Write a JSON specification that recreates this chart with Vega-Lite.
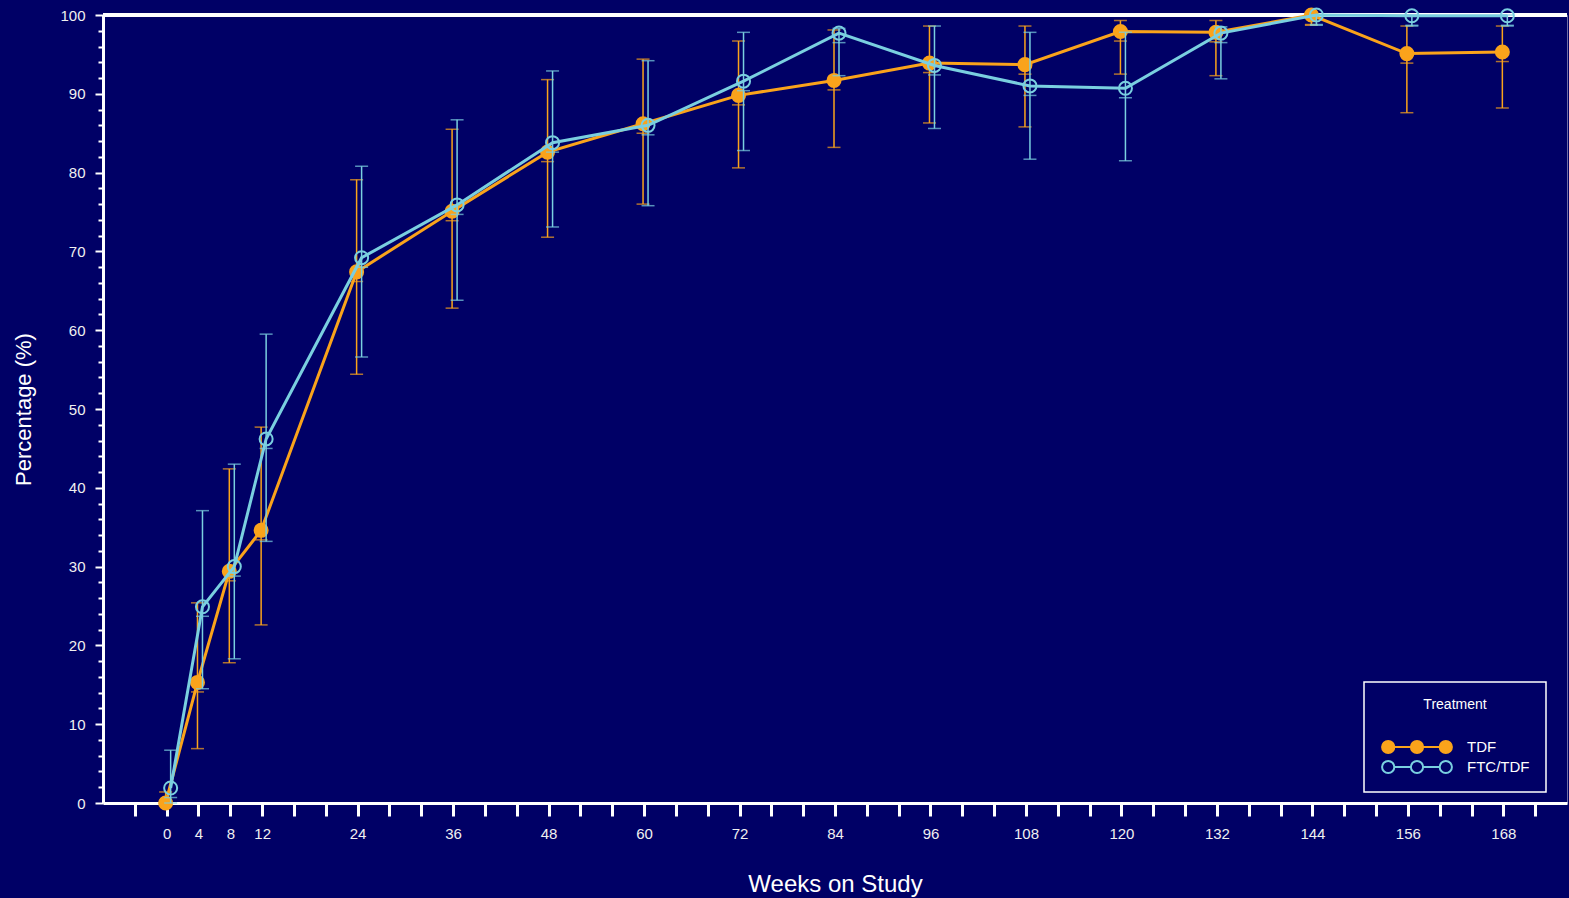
{
  "$schema": "https://vega.github.io/schema/vega-lite/v6.json",
  "width": 1464,
  "height": 788,
  "autosize": {"type": "none"},
  "padding": {"left": 103, "top": 15, "right": 2, "bottom": 95},
  "background": "#000066",
  "config": {
    "view": {"stroke": "#6e6ea6", "strokeWidth": 1},
    "font": "Liberation Sans",
    "legend": {
      "fillColor": "#000066",
      "strokeColor": "#ffffff",
      "strokeWidth": 1.5,
      "padding": 16,
      "titleAnchor": "middle",
      "titleFontSize": 14,
      "titleFontWeight": "normal",
      "titleColor": "#ffffff",
      "titlePadding": 26,
      "labelFontSize": 15,
      "labelColor": "#ffffff",
      "labelOffset": 13,
      "symbolSize": 5184,
      "symbolStrokeWidth": 2,
      "symbolOpacity": 1,
      "clipHeight": 18,
      "rowPadding": 2
    }
  },
  "data": {
    "values": [
      {"week": 0, "treatment": "TDF", "pct": 0, "lo": 0, "hi": 1.4},
      {"week": 4, "treatment": "TDF", "pct": 15.3, "lo": 6.9, "hi": 25.4},
      {"week": 8, "treatment": "TDF", "pct": 29.4, "lo": 17.8, "hi": 42.4},
      {"week": 12, "treatment": "TDF", "pct": 34.6, "lo": 22.6, "hi": 47.7},
      {"week": 24, "treatment": "TDF", "pct": 67.4, "lo": 54.4, "hi": 79.1},
      {"week": 36, "treatment": "TDF", "pct": 75.1, "lo": 62.8, "hi": 85.5},
      {"week": 48, "treatment": "TDF", "pct": 82.6, "lo": 71.8, "hi": 91.8},
      {"week": 60, "treatment": "TDF", "pct": 86.2, "lo": 76.0, "hi": 94.4},
      {"week": 72, "treatment": "TDF", "pct": 89.8, "lo": 80.6, "hi": 96.7},
      {"week": 84, "treatment": "TDF", "pct": 91.7, "lo": 83.2, "hi": 98.1},
      {"week": 96, "treatment": "TDF", "pct": 93.9, "lo": 86.3, "hi": 98.6},
      {"week": 108, "treatment": "TDF", "pct": 93.7, "lo": 85.8, "hi": 98.6},
      {"week": 120, "treatment": "TDF", "pct": 97.9, "lo": 92.5, "hi": 99.3},
      {"week": 132, "treatment": "TDF", "pct": 97.8, "lo": 92.3, "hi": 99.3},
      {"week": 144, "treatment": "TDF", "pct": 100, "lo": 98.7, "hi": 100},
      {"week": 156, "treatment": "TDF", "pct": 95.1, "lo": 87.6, "hi": 98.6},
      {"week": 168, "treatment": "TDF", "pct": 95.3, "lo": 88.2, "hi": 98.6},
      {"week": 0, "treatment": "FTC/TDF", "pct": 1.9, "lo": 0, "hi": 6.7},
      {"week": 4, "treatment": "FTC/TDF", "pct": 24.9, "lo": 14.5, "hi": 37.1},
      {"week": 8, "treatment": "FTC/TDF", "pct": 30.0, "lo": 18.3, "hi": 43.0},
      {"week": 12, "treatment": "FTC/TDF", "pct": 46.2, "lo": 33.2, "hi": 59.5},
      {"week": 24, "treatment": "FTC/TDF", "pct": 69.2, "lo": 56.6, "hi": 80.8},
      {"week": 36, "treatment": "FTC/TDF", "pct": 75.9, "lo": 63.8, "hi": 86.7},
      {"week": 48, "treatment": "FTC/TDF", "pct": 83.8, "lo": 73.1, "hi": 92.9},
      {"week": 60, "treatment": "FTC/TDF", "pct": 86.0, "lo": 75.8, "hi": 94.2},
      {"week": 72, "treatment": "FTC/TDF", "pct": 91.6, "lo": 82.8, "hi": 97.8},
      {"week": 84, "treatment": "FTC/TDF", "pct": 97.7, "lo": 92.3, "hi": 98.3},
      {"week": 96, "treatment": "FTC/TDF", "pct": 93.6, "lo": 85.6, "hi": 98.6},
      {"week": 108, "treatment": "FTC/TDF", "pct": 91.0, "lo": 81.7, "hi": 97.8},
      {"week": 120, "treatment": "FTC/TDF", "pct": 90.7, "lo": 81.5, "hi": 97.8},
      {"week": 132, "treatment": "FTC/TDF", "pct": 97.7, "lo": 91.9, "hi": 98.5},
      {"week": 144, "treatment": "FTC/TDF", "pct": 100, "lo": 98.7, "hi": 100},
      {"week": 156, "treatment": "FTC/TDF", "pct": 99.9, "lo": 98.6, "hi": 100},
      {"week": 168, "treatment": "FTC/TDF", "pct": 99.9, "lo": 98.6, "hi": 100}
    ]
  },
  "layer": [
    {
      "mark": {"type": "rule", "color": "#ffffff", "strokeWidth": 3},
      "encoding": {"y": {"datum": 100, "type": "quantitative"}}
    },
    {
      "transform": [{"filter": "datum.treatment === 'TDF'"}],
      "layer": [
        {
          "mark": {"type": "line", "strokeWidth": 3, "xOffset": -1},
          "encoding": {
            "x": {
              "field": "week", "type": "quantitative",
              "scale": {"domain": [-8, 176], "nice": false, "zero": false},
              "axis": {
                "title": "Weeks on Study",
                "values": [-4,0,4,8,12,16,20,24,28,32,36,40,44,48,52,56,60,64,68,72,76,80,84,88,92,96,100,104,108,112,116,120,124,128,132,136,140,144,148,152,156,160,164,168,172],
                "tickCount": 200,
                "format": "d",
                "labelExpr": "(datum.value >= 0 && (datum.value <= 12 || datum.value % 12 === 0)) ? datum.label : ''",
                "grid": false,
                "domainColor": "#ffffff", "domainWidth": 3,
                "tickColor": "#ffffff", "tickWidth": 3, "tickSize": 13,
                "labelColor": "#f0f0f0", "labelFontSize": 15, "labelPadding": 10,
                "labelFlush": false, "labelOverlap": false,
                "titleColor": "#ffffff", "titleFontSize": 24, "titleFontWeight": "normal",
                "titleY": 88, "titleBaseline": "alphabetic"
              }
            },
            "y": {
              "field": "pct", "type": "quantitative",
              "scale": {"domain": [0, 100], "nice": false},
              "axis": {
                "title": "Percentage (%)",
                "values": [0,2,4,6,8,10,12,14,16,18,20,22,24,26,28,30,32,34,36,38,40,42,44,46,48,50,52,54,56,58,60,62,64,66,68,70,72,74,76,78,80,82,84,86,88,90,92,94,96,98,100],
                "tickCount": 200,
                "format": "d",
                "labelExpr": "datum.value % 10 === 0 ? datum.label : ''",
                "grid": false,
                "domainColor": "#ffffff", "domainWidth": 3,
                "tickColor": "#ffffff", "tickWidth": 2,
                "tickSize": {"condition": {"test": "datum.value % 10 === 0", "value": 8}, "value": 5},
                "labelColor": "#f0f0f0", "labelFontSize": 15, "labelPadding": 10,
                "labelOverlap": false,
                "titleColor": "#ffffff", "titleFontSize": 22, "titleFontWeight": "normal",
                "titleX": -73, "titleY": 394, "titleBaseline": "alphabetic", "titleAlign": "center", "titleAngle": -90
              }
            },
            "color": {
              "field": "treatment", "type": "nominal",
              "title": "\u00a0\u00a0\u00a0\u00a0\u00a0\u00a0\u00a0\u00a0\u00a0\u00a0\u00a0\u00a0\u00a0Treatment\u00a0\u00a0\u00a0\u00a0\u00a0\u00a0\u00a0\u00a0\u00a0\u00a0\u00a0\u00a0\u00a0",
              "scale": {"domain": ["TDF", "FTC/TDF"], "range": ["#FAA31B", "#7ACFE0"]},
              "legend": {
                "orient": "none", "legendX": 1261, "legendY": 667,
                "symbolType": "M-0.97,0A0.17,0.17 0 1 0 -0.63,0A0.17,0.17 0 1 0 -0.97,0ZM-0.63,0L-0.17,0M-0.17,0A0.17,0.17 0 1 0 0.17,0A0.17,0.17 0 1 0 -0.17,0ZM0.17,0L0.63,0M0.63,0A0.17,0.17 0 1 0 0.97,0A0.17,0.17 0 1 0 0.63,0Z",
                "symbolSize": 5184, "symbolStrokeWidth": 2, "symbolOpacity": 1
              }
            }
          }
        },
        {
          "mark": {"type": "rule", "color": "#FAA31B", "strokeWidth": 1.5, "xOffset": -1},
          "encoding": {
            "x": {"field": "week", "type": "quantitative"},
            "y": {"field": "lo", "type": "quantitative"},
            "y2": {"field": "hi"}
          }
        },
        {
          "transform": [{"fold": ["lo", "hi"], "as": ["which", "cap"]}],
          "mark": {"type": "tick", "color": "#FAA31B", "orient": "horizontal", "size": 13, "thickness": 1.5, "xOffset": -1},
          "encoding": {
            "x": {"field": "week", "type": "quantitative"},
            "y": {"field": "cap", "type": "quantitative"}
          }
        },
        {
          "mark": {"type": "tick", "color": "#FAA31B", "orient": "horizontal", "size": 13, "thickness": 1.5, "xOffset": -1, "yOffset": 9.5, "clip": true},
          "encoding": {
            "x": {"field": "week", "type": "quantitative"},
            "y": {"field": "pct", "type": "quantitative"}
          }
        },
        {
          "mark": {"type": "point", "shape": "circle", "filled": true, "stroke": "#FAA31B", "size": 170, "strokeWidth": 2, "opacity": 1, "xOffset": -1},
          "encoding": {
            "x": {"field": "week", "type": "quantitative"},
            "y": {"field": "pct", "type": "quantitative"},
            "fill": {
              "field": "treatment", "type": "nominal",
              "title": "\u00a0\u00a0\u00a0\u00a0\u00a0\u00a0\u00a0\u00a0\u00a0\u00a0\u00a0\u00a0\u00a0Treatment\u00a0\u00a0\u00a0\u00a0\u00a0\u00a0\u00a0\u00a0\u00a0\u00a0\u00a0\u00a0\u00a0",
              "scale": {"domain": ["TDF", "FTC/TDF"], "range": ["#FAA31B", "transparent"]},
              "legend": {
                "orient": "none", "legendX": 1261, "legendY": 667,
                "symbolType": "M-0.97,0A0.17,0.17 0 1 0 -0.63,0A0.17,0.17 0 1 0 -0.97,0ZM-0.63,0L-0.17,0M-0.17,0A0.17,0.17 0 1 0 0.17,0A0.17,0.17 0 1 0 -0.17,0ZM0.17,0L0.63,0M0.63,0A0.17,0.17 0 1 0 0.97,0A0.17,0.17 0 1 0 0.63,0Z",
                "symbolSize": 5184, "symbolStrokeWidth": 2, "symbolOpacity": 1
              }
            }
          }
        }
      ]
    },
    {
      "transform": [{"filter": "datum.treatment === 'FTC/TDF'"}],
      "layer": [
        {
          "mark": {"type": "line", "strokeWidth": 3, "xOffset": 4},
          "encoding": {
            "x": {"field": "week", "type": "quantitative"},
            "y": {"field": "pct", "type": "quantitative"},
            "color": {
              "field": "treatment", "type": "nominal",
              "title": "\u00a0\u00a0\u00a0\u00a0\u00a0\u00a0\u00a0\u00a0\u00a0\u00a0\u00a0\u00a0\u00a0Treatment\u00a0\u00a0\u00a0\u00a0\u00a0\u00a0\u00a0\u00a0\u00a0\u00a0\u00a0\u00a0\u00a0"
            }
          }
        },
        {
          "mark": {"type": "rule", "color": "#7ACFE0", "strokeWidth": 1.5, "xOffset": 4},
          "encoding": {
            "x": {"field": "week", "type": "quantitative"},
            "y": {"field": "lo", "type": "quantitative"},
            "y2": {"field": "hi"}
          }
        },
        {
          "transform": [{"fold": ["lo", "hi"], "as": ["which", "cap"]}],
          "mark": {"type": "tick", "color": "#7ACFE0", "orient": "horizontal", "size": 13, "thickness": 1.5, "xOffset": 4},
          "encoding": {
            "x": {"field": "week", "type": "quantitative"},
            "y": {"field": "cap", "type": "quantitative"}
          }
        },
        {
          "mark": {"type": "tick", "color": "#7ACFE0", "orient": "horizontal", "size": 13, "thickness": 1.5, "xOffset": 4, "yOffset": 9.5, "clip": true},
          "encoding": {
            "x": {"field": "week", "type": "quantitative"},
            "y": {"field": "pct", "type": "quantitative"}
          }
        },
        {
          "mark": {"type": "point", "shape": "circle", "filled": true, "stroke": "#7ACFE0", "size": 170, "strokeWidth": 2, "opacity": 1, "xOffset": 4},
          "encoding": {
            "x": {"field": "week", "type": "quantitative"},
            "y": {"field": "pct", "type": "quantitative"},
            "fill": {
              "field": "treatment", "type": "nominal",
              "title": "\u00a0\u00a0\u00a0\u00a0\u00a0\u00a0\u00a0\u00a0\u00a0\u00a0\u00a0\u00a0\u00a0Treatment\u00a0\u00a0\u00a0\u00a0\u00a0\u00a0\u00a0\u00a0\u00a0\u00a0\u00a0\u00a0\u00a0"
            }
          }
        }
      ]
    }
  ]
}
